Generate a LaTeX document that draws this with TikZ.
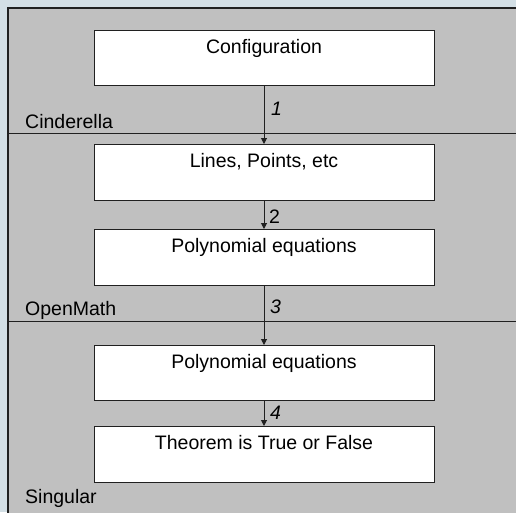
\documentclass[tikz,border=0pt]{standalone}
\usepackage{fontspec}
\setmainfont{Liberation Sans}
\usetikzlibrary{arrows.meta}
\definecolor{outerbg}{HTML}{D3DFE5}
\definecolor{panel}{HTML}{C0C0C0}
\definecolor{ink}{HTML}{202020}
\begin{document}
\begin{tikzpicture}[x=1pt,y=-1pt,
  stepbox/.style={draw=ink, line width=1pt, fill=white, minimum width=340pt, minimum height=55pt, inner sep=0pt, anchor=north},
  boxtext/.style={anchor=base, font=\fontsize{19.5}{22}\selectfont, text=black, inner sep=0pt},
  zonelabel/.style={anchor=base west, font=\fontsize{19.5}{22}\selectfont, inner sep=0pt},
  numlabel/.style={anchor=base west, font=\fontsize{19.5}{22}\selectfont, inner sep=0pt},
  flow/.style={draw=ink, line width=1pt, -{Triangle[length=6pt,width=6pt]}},
  divider/.style={draw=ink, line width=1pt}]
\useasboundingbox (0,0) rectangle (516,512);
\fill[outerbg] (0,0) rectangle (516,512);
\fill[panel] (8,8) rectangle (520,516);
\draw[ink, line width=1.2pt] (8,516) -- (8,8) -- (520,8);
% dividers
\coordinate (d1l) at (8,133); \coordinate (d1r) at (516,133);
\coordinate (d2l) at (8,321); \coordinate (d2r) at (516,321);
\draw[divider] (d1l) -- (d1r);
\draw[divider] (d2l) -- (d2r);
% boxes
\node[stepbox, minimum height=55pt] (b1) at (264,30) {};
\node[stepbox, minimum height=56pt] (b2) at (264,144) {};
\node[stepbox, minimum height=56pt] (b3) at (264,229) {};
\node[stepbox, minimum height=55pt] (b4) at (264,345) {};
\node[stepbox, minimum height=56pt] (b5) at (264,426) {};
\node[boxtext] (t1) at (264,53) {Configuration};
\node[boxtext] (t2) at (264,167) {Lines, Points, etc};
\node[boxtext] (t3) at (264,252) {Polynomial equations};
\node[boxtext] (t4) at (264,368) {Polynomial equations};
\node[boxtext] (t5) at (264,449) {Theorem is True or False};
% arrows
\draw[flow] (b1.south) -- (b2.north);
\draw[flow] (b2.south) -- (b3.north);
\draw[flow] (b3.south) -- (b4.north);
\draw[flow] (b4.south) -- (b5.north);
\node[numlabel] (n1) at (271,115) {\itshape 1};
\node[numlabel] (n2) at (269,223) {2};
\node[numlabel] (n3) at (270,313) {\itshape 3};
\node[numlabel] (n4) at (270,419) {\itshape 4};
% zone labels
\node[zonelabel] (z1) at (25,128) {Cinderella};
\node[zonelabel] (z2) at (25,315) {OpenMath};
\node[zonelabel] (z3) at (25,503) {Singular};
\end{tikzpicture}
\end{document}
